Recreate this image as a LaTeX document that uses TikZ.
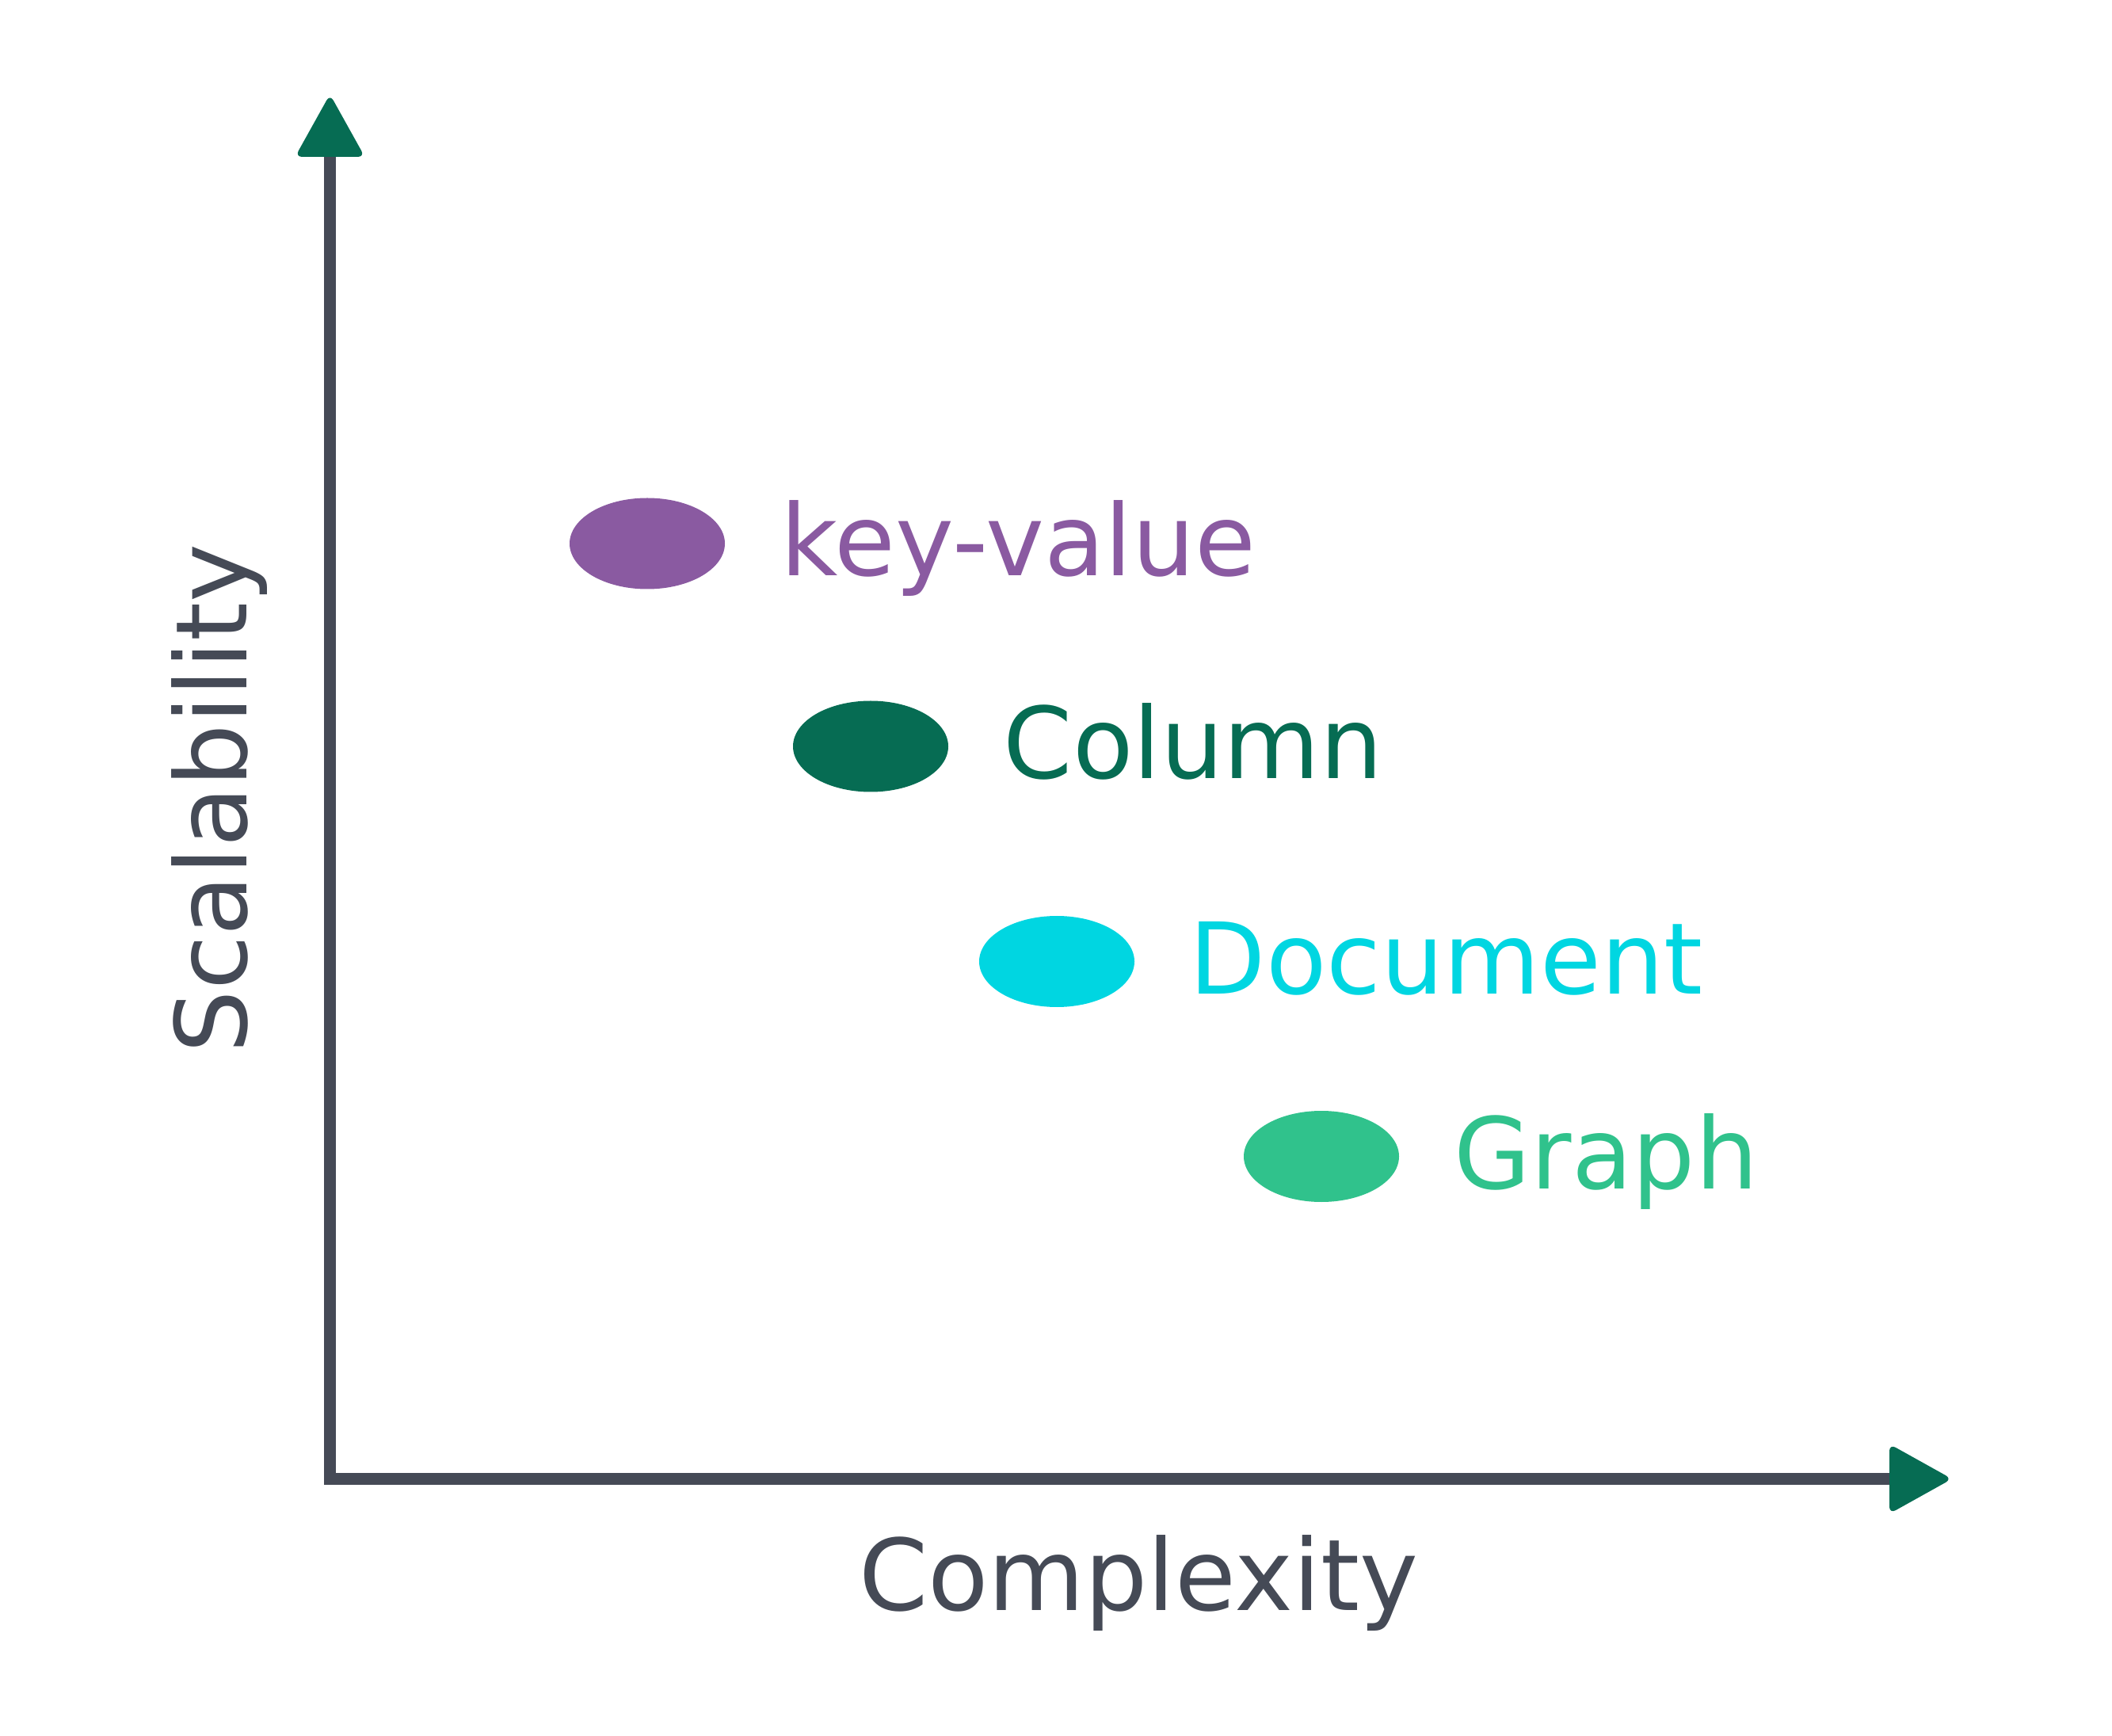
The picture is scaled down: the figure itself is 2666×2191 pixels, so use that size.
\documentclass[tikz,border=0pt]{standalone}
\usepackage{fontspec}
\setmainfont{DejaVu Sans}
\usetikzlibrary{shapes.geometric}
\definecolor{axisgray}{HTML}{454A56}
\definecolor{arrowgreen}{HTML}{066C53}
\definecolor{kvpurple}{HTML}{8A5AA1}
\definecolor{colgreen}{HTML}{066C53}
\definecolor{doccyan}{HTML}{00D6E1}
\definecolor{graphgreen}{HTML}{30C28C}
\tikzset{
  axisline/.style={draw=axisgray, line width=3.75pt},
  arrowhd/.style={fill=arrowgreen, rounded corners=2.2pt},
  dot/.style={ellipse, minimum width=49pt, minimum height=28.75pt, inner sep=0pt, draw=none},
  lbl/.style={anchor=base west, inner sep=0pt, font=\fontsize{31.25}{37}\selectfont},
  axislbl/.style={anchor=base, inner sep=0pt, text=axisgray, font=\fontsize{31.25}{37}\selectfont}
}
\begin{document}
\begin{tikzpicture}[x=0.25pt, y=-0.25pt]
\useasboundingbox (0,0) rectangle (2666,2191);
% axes
\coordinate (orig) at (416.5,1874);
\coordinate (ytop) at (416.5,198);
\coordinate (xleft) at (409,1866.5);
\coordinate (xend) at (2385,1866.5);
\draw[axisline] (orig) -- (ytop);
\draw[axisline] (xleft) -- (xend);
% arrowheads
\fill[arrowhd] (372.5,198) -- (416.5,119) -- (460.5,198) -- cycle;
\fill[arrowhd] (2385,1822.5) -- (2464,1866.5) -- (2385,1910.5) -- cycle;
% axis labels
\node[axislbl, rotate=90] (ylab) at (311,1008) {Scalability};
\node[axislbl] (xlab) at (1437,2032) {Complexity};
% points
\node[dot, fill=kvpurple] (kv) at (817,686) {};
\node[dot, fill=colgreen] (col) at (1099,942) {};
\node[dot, fill=doccyan] (doc) at (1334,1213.5) {};
\node[dot, fill=graphgreen] (gr) at (1668,1459.5) {};
% labels
\node[lbl, text=kvpurple] (kvl) at (985,727) {key-value};
\node[lbl, text=colgreen] (coll) at (1266,983) {Column};
\node[lbl, text=doccyan] (docl) at (1501,1254) {Document};
\node[lbl, text=graphgreen] (grl) at (1835,1500) {Graph};
\end{tikzpicture}
\end{document}
